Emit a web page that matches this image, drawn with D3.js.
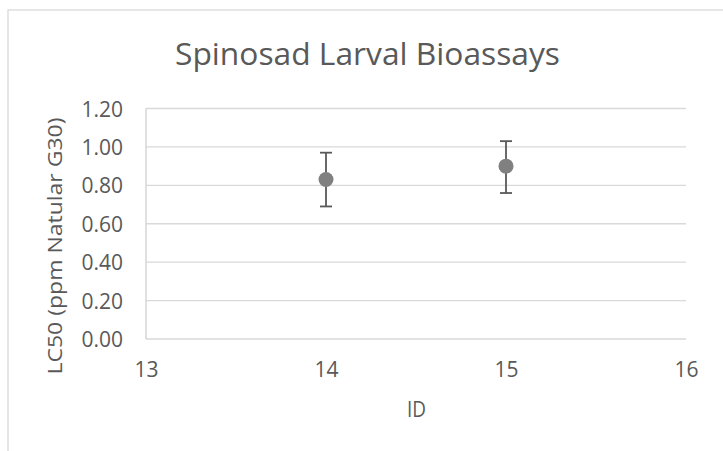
<!DOCTYPE html>
<html>
<head>
<meta charset="utf-8">
<script src="https://cdn.jsdelivr.net/npm/d3@7"></script>
<style>
  html, body { margin: 0; padding: 0; background: #fff; }
  svg { display: block; }
  text { font-family: "Open Sans", "Noto Sans", sans-serif; fill: #595959; }
</style>
</head>
<body>
<svg id="chart" width="723" height="451"></svg>
<script>
// Larval bioassay results: LC50 with lower / upper confidence limits
const ids = [14, 15];
const lc50 = [0.83, 0.90];
const lowerCL = [0.69, 0.76];
const upperCL = [0.97, 1.03];

const xTicks = [13, 14, 15, 16];
const yTicks = [0, 0.2, 0.4, 0.6, 0.8, 1.0, 1.2];

const chartTitle = "Spinosad Larval Bioassays";
const xTitle = "ID";
const yTitle = "LC50 (ppm Natular G30)";

const svg = d3.select("#chart");
const W = 723, H = 451;

// Chart frame
svg.append("rect")
  .attr("x", 8).attr("y", 10)
  .attr("width", W).attr("height", H)
  .attr("fill", "#fff")
  .attr("stroke", "#d9d9d9").attr("stroke-width", 1.3);

const x = d3.scaleLinear().domain([13, 16]).range([146, 686]);
const y = d3.scaleLinear().domain([0, 1.2]).range([339, 108.5]);

// Horizontal gridlines
svg.append("g")
  .selectAll("line")
  .data(yTicks)
  .join("line")
  .attr("x1", x(13)).attr("x2", x(16))
  .attr("y1", d => y(d)).attr("y2", d => y(d))
  .attr("stroke", "#d9d9d9").attr("stroke-width", 1.3);

// Vertical axis line
svg.append("line")
  .attr("x1", x(13)).attr("x2", x(13))
  .attr("y1", y(0)).attr("y2", y(1.2))
  .attr("stroke", "#d0d0d0").attr("stroke-width", 1.3);

// Y tick labels
const yAxis = d3.axisLeft(y).tickValues(yTicks).tickFormat(d3.format(".2f")).tickSize(0).tickPadding(23);
const gy = svg.append("g").attr("transform", `translate(${x(13)},0)`).call(yAxis);
gy.select(".domain").remove();
gy.selectAll("text")
  .attr("font-size", 21)
  .attr("dy", "0.36em")
  .style("fill", "#595959");
gy.attr("font-family", null).attr("font-size", null);

// X tick labels
const xAxis = d3.axisBottom(x).tickValues(xTicks).tickFormat(d3.format("d")).tickSize(0);
const gx = svg.append("g").attr("transform", `translate(0,${y(0)})`).call(xAxis);
gx.select(".domain").remove();
gx.selectAll("text")
  .attr("font-size", 21)
  .attr("y", 38)
  .attr("dy", 0)
  .style("fill", "#595959");
gx.attr("font-family", null).attr("font-size", null);

// Error bars
const bars = svg.append("g");
ids.forEach((id, i) => {
  const cx = x(id);
  bars.append("line")
    .attr("x1", cx).attr("x2", cx)
    .attr("y1", y(lowerCL[i])).attr("y2", y(upperCL[i]))
    .attr("stroke", "#595959").attr("stroke-width", 1.8);
  [lowerCL[i], upperCL[i]].forEach(v => {
    bars.append("line")
      .attr("x1", cx - 6).attr("x2", cx + 6)
      .attr("y1", y(v)).attr("y2", y(v))
      .attr("stroke", "#595959").attr("stroke-width", 1.8);
  });
});

// Markers
svg.append("g")
  .selectAll("circle")
  .data(ids)
  .join("circle")
  .attr("cx", d => x(d))
  .attr("cy", (d, i) => y(lc50[i]))
  .attr("r", 7.5)
  .attr("fill", "#808080");

// Titles
svg.append("text")
  .attr("x", 367.5).attr("y", 65)
  .attr("text-anchor", "middle")
  .attr("font-size", 31)
  .attr("textLength", 385).attr("lengthAdjust", "spacingAndGlyphs")
  .text(chartTitle);

svg.append("text")
  .attr("x", 416.5).attr("y", 417)
  .attr("text-anchor", "middle")
  .attr("font-size", 22)
  .attr("textLength", 19).attr("lengthAdjust", "spacingAndGlyphs")
  .text(xTitle);

svg.append("text")
  .attr("transform", "translate(62,246) rotate(-90)")
  .attr("text-anchor", "middle")
  .attr("font-size", 20)
  .attr("textLength", 257).attr("lengthAdjust", "spacingAndGlyphs")
  .text(yTitle);
</script>
</body>
</html>
